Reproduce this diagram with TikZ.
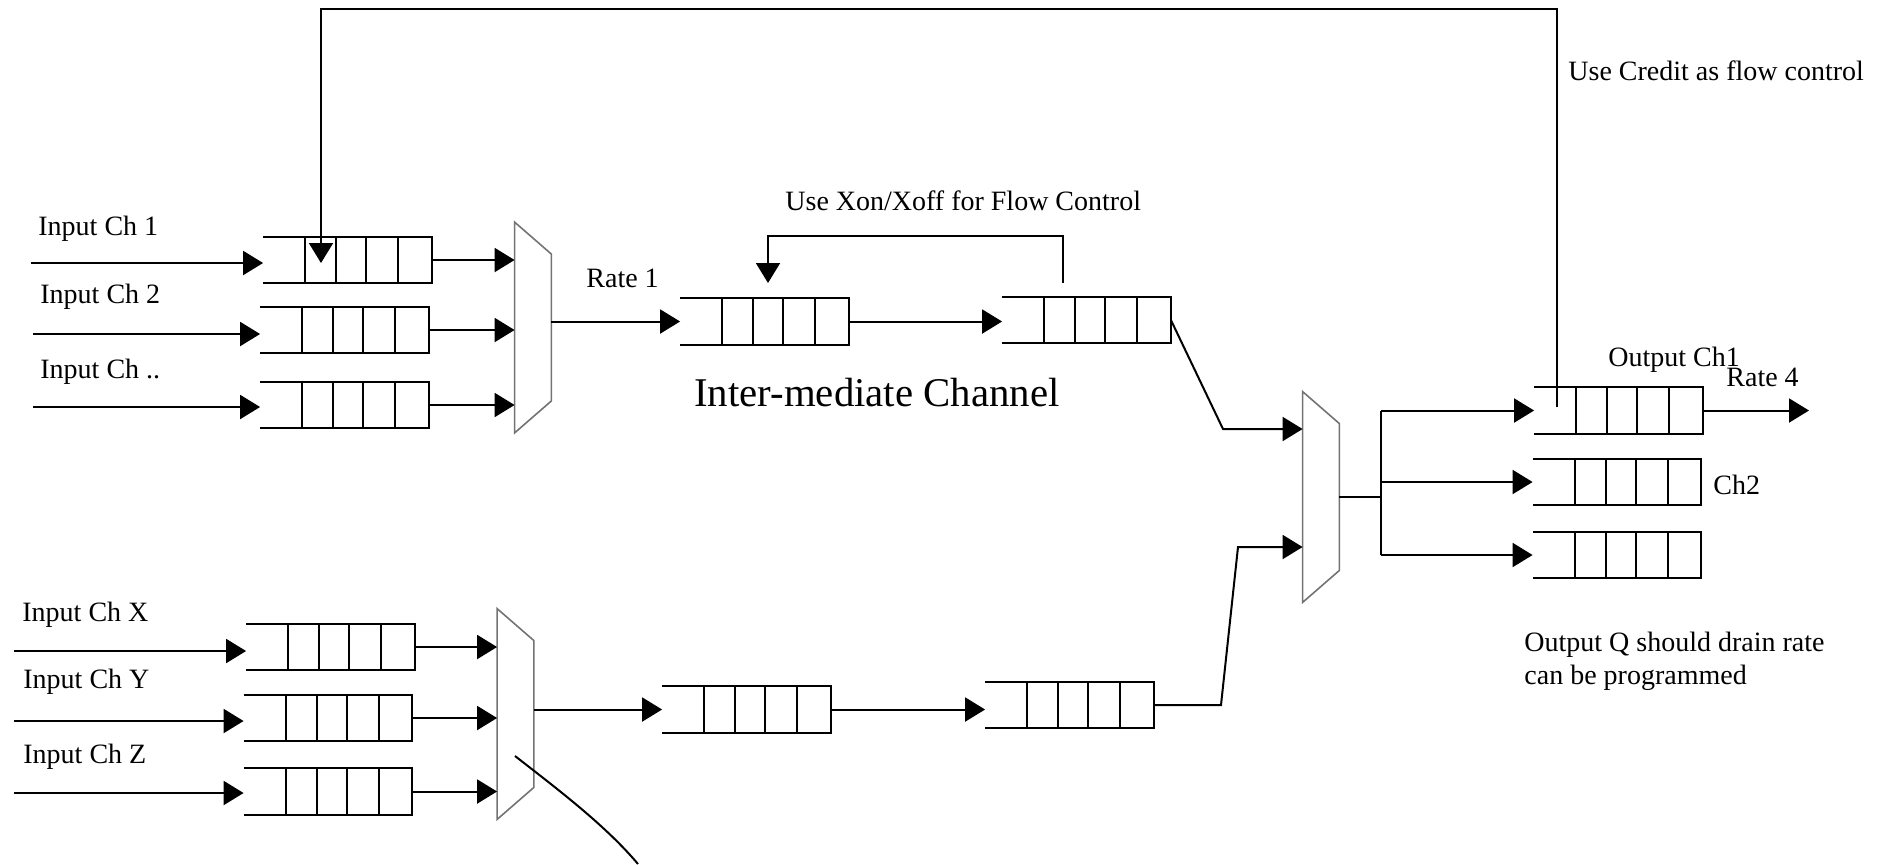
\documentclass[tikz,border=0pt]{standalone}
\usepackage{fontspec}
\setmainfont{Liberation Serif}
\usetikzlibrary{arrows.meta}
\tikzset{
  wire/.style={line width=1pt, black},
  arr/.style={wire, -{Triangle[length=10pt,width=12pt]}},
  muxline/.style={line width=0.8pt, black!55},
  lbl/.style={font=\fontsize{14}{16.3}\selectfont, inner sep=0pt, anchor=west, align=left},
  big/.style={font=\fontsize{20.4}{24}\selectfont, inner sep=0pt, anchor=west},
  % FIFO: open on the left, four cells on the right
  fifo/.pic={
    \node[inner sep=0pt, minimum width=84pt, minimum height=23pt] (-box) {};
    \draw[wire] (-box.north west) -- (-box.north east) -- (-box.south east) -- (-box.south west);
    \foreach \dx in {21,36.5,51.5,67.5}
      \draw[wire] ([xshift=\dx pt]-box.north west) -- ([xshift=\dx pt]-box.south west);
  },
  % multiplexer trapezoid
  mux/.pic={
    \node[inner sep=0pt, minimum width=18pt, minimum height=105pt] (-box) {};
    \draw[muxline] (-box.north west) -- ([yshift=-16pt]-box.north east)
      -- ([yshift=16pt]-box.south east) -- (-box.south west) -- cycle;
  },
}
\begin{document}
\begin{tikzpicture}[x=0.5pt,y=-0.5pt]
\useasboundingbox (0,0) rectangle (1885,864);

% queues
\pic (q1) at (347.5,260) {fifo};
\pic (q2) at (344.5,330) {fifo};
\pic (q3) at (344.5,405) {fifo};
\pic (i1) at (764.5,321.5) {fifo};
\pic (i2) at (1086.5,320) {fifo};
\pic (o1) at (1618.5,410.5) {fifo};
\pic (o2) at (1617,482) {fifo};
\pic (o3) at (1617,555) {fifo};
\pic (qx) at (330.5,647) {fifo};
\pic (qy) at (328,718) {fifo};
\pic (qz) at (328,791.5) {fifo};
\pic (l1) at (746.5,709.5) {fifo};
\pic (l2) at (1069.5,705) {fifo};

% multiplexers
\pic (m1) at (533,327.5) {mux};
\pic (m2) at (1321,497) {mux};
\pic (m3) at (515.5,714) {mux};

% input channels
\coordinate (s1) at (31,263);
\coordinate (s2) at (33,334);
\coordinate (s3) at (33,407);
\coordinate (sx) at (14,651);
\coordinate (sy) at (14,721);
\coordinate (sz) at (14,793);
\draw[arr] (s1) -- (s1 -| q1-box.west);
\draw[arr] (s2) -- (s2 -| q2-box.west);
\draw[arr] (s3) -- (s3 -| q3-box.west);
\draw[arr] (sx) -- (sx -| qx-box.west);
\draw[arr] (sy) -- (sy -| qy-box.west);
\draw[arr] (sz) -- (sz -| qz-box.west);

% queues into multiplexers
\draw[arr] (q1-box.east) -- (q1-box.east -| m1-box.west);
\draw[arr] (q2-box.east) -- (q2-box.east -| m1-box.west);
\draw[arr] (q3-box.east) -- (q3-box.east -| m1-box.west);
\draw[arr] (qx-box.east) -- (qx-box.east -| m3-box.west);
\draw[arr] (qy-box.east) -- (qy-box.east -| m3-box.west);
\draw[arr] (qz-box.east) -- (qz-box.east -| m3-box.west);

% intermediate channels
\draw[arr] (m1-box.east |- i1-box.west) -- (i1-box.west);
\draw[arr] (i1-box.east) -- (i1-box.east -| i2-box.west);
\draw[arr] (m3-box.east |- l1-box.west) -- (l1-box.west);
\draw[arr] (l1-box.east) -- (l1-box.east -| l2-box.west);

% Xon/Xoff loop
\coordinate (xa) at (1063,283);
\coordinate (xb) at (1063,236);
\coordinate (xc) at (768,283);
\draw[arr] (xa) -- (xb) -| (xc);

% into the output multiplexer
\coordinate (ka) at (1223,429);
\draw[arr] (i2-box.east) -- (ka) -- (ka -| m2-box.west);
\coordinate (kb) at (1221,705);
\coordinate (kc) at (1238,547);
\draw[arr] (l2-box.east) -- (kb) -- (kc) -- (kc -| m2-box.west);

% output fan-out
\coordinate (bus) at (1381,497);
\draw[wire] (m2-box.east) -- (bus);
\draw[wire] (bus |- o1-box.west) -- (bus |- o3-box.west);
\draw[arr] (bus |- o1-box.west) -- (o1-box.west);
\draw[arr] (bus |- o2-box.west) -- (o2-box.west);
\draw[arr] (bus |- o3-box.west) -- (o3-box.west);
\coordinate (e4) at (1809,410.5);
\draw[arr] (o1-box.east) -- (e4);

% credit loop
\coordinate (ca) at (1557,407);
\coordinate (cb) at (1557,9);
\coordinate (cc) at (321,263);
\draw[arr] (ca) -- (cb) -| (cc);

% pointer line
\coordinate (ua) at (515,756);
\coordinate (ub) at (638,864);
\draw[wire] (ua) .. controls (560,791) and (606,826) .. (ub);

% labels
\node[lbl] (t1) at (38,229) {Input Ch 1};
\node[lbl] (t2) at (40,297) {Input Ch 2};
\node[lbl] (t3) at (40,372) {Input Ch ..};
\node[lbl] (tx) at (22,615) {Input Ch X};
\node[lbl] (ty) at (23,682) {Input Ch Y};
\node[lbl] (tz) at (23,757) {Input Ch Z};
\node[lbl] (r1) at (586,278) {Rate 1};
\node[lbl] (xon) at (785,201) {Use Xon/Xoff for Flow Control};
\node[lbl] (cr) at (1568,71) {Use Credit as flow control};
\node[big] (imc) at (694,393) {Inter-mediate Channel};
\node[lbl] (oc1) at (1608,360) {Output Ch1};
\node[lbl] (r4) at (1726,377) {Rate 4};
\node[lbl] (ch2) at (1713,485) {Ch2};
\node[lbl] (oq) at (1524,661) {Output Q should drain rate\\can be programmed};
\end{tikzpicture}
\end{document}
